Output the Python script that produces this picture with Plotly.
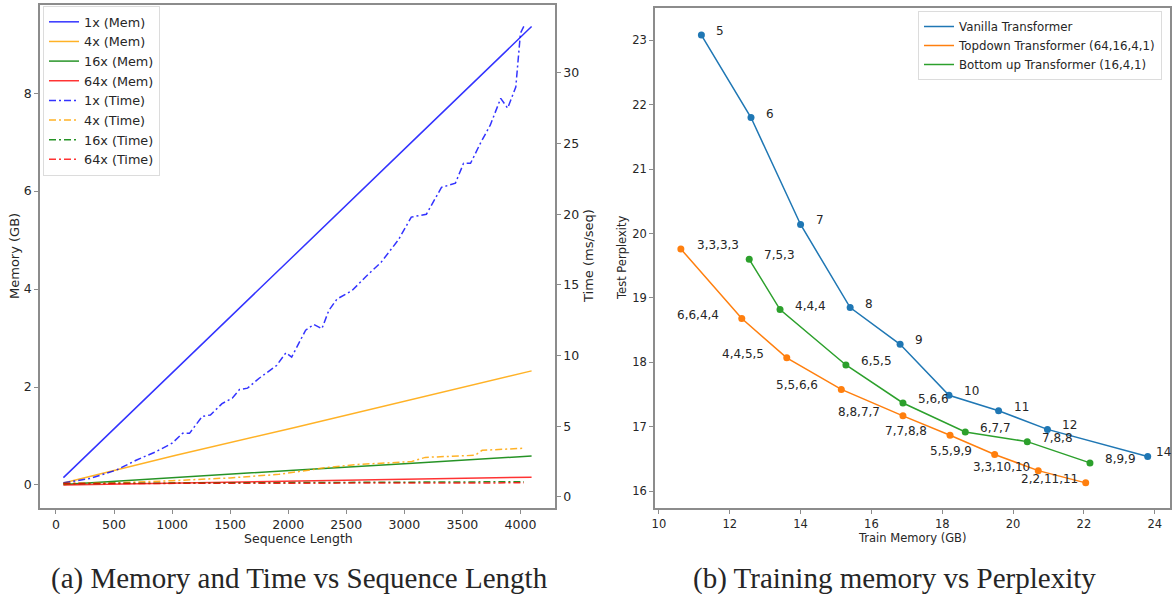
import plotly.graph_objects as go

W, H = 1173, 594

# ---------------- Left chart data ----------------
mem_seq = [64, 1024, 2048, 3072, 4096]
mem_1x = [0.15, 2.35, 4.68, 7.02, 9.36]
mem_4x = [0.04, 0.60, 1.17, 1.75, 2.33]
mem_16x = [0.01, 0.155, 0.30, 0.445, 0.59]
mem_64x = [0.0, 0.04, 0.08, 0.12, 0.16]

time1_seq = [64, 290, 520, 690, 860, 1000, 1090, 1150, 1260, 1330, 1430, 1520, 1580, 1650,
             1750, 1900, 1980, 2030, 2150, 2220, 2290, 2350, 2420, 2550, 2670, 2800, 2950,
             3060, 3190, 3320, 3440, 3510, 3570, 3660, 3740, 3830, 3890, 3960, 4000, 4030]
time_1x = [1.0, 1.3, 1.9, 2.6, 3.2, 3.8, 4.5, 4.5, 5.7, 5.8, 6.6, 7.0, 7.6, 7.7,
           8.4, 9.3, 10.2, 9.9, 11.8, 12.2, 11.9, 13.2, 14.0, 14.6, 15.6, 16.6, 18.2,
           19.8, 20.0, 21.9, 22.2, 23.6, 23.6, 25.1, 26.3, 28.2, 27.5, 29.0, 32.8, 33.3]

time4_seq = [64, 500, 1000, 1500, 1920, 2080, 2350, 2600, 3060, 3180, 3610, 3670, 4030]
time_4x = [0.95, 1.0, 1.15, 1.35, 1.6, 1.8, 2.1, 2.3, 2.5, 2.8, 2.95, 3.3, 3.45]

time_seq = [64, 1000, 2000, 3000, 4030]
time_16x = [0.95, 0.97, 1.0, 1.03, 1.08]
time_64x = [0.95, 0.96, 0.97, 0.98, 1.0]

# ---------------- Right chart data ----------------
van_mem = [11.2, 12.6, 14.0, 15.4, 16.81, 18.19, 19.59, 20.97, 23.8]
van_ppl = [23.08, 21.8, 20.14, 18.85, 18.28, 17.49, 17.25, 16.96, 16.54]
van_lbl = ["5", "6", "7", "8", "9", "10", "11", "12", "14"]

td_mem = [10.62, 12.34, 13.61, 15.15, 16.89, 18.22, 19.48, 20.71, 22.05]
td_ppl = [19.76, 18.68, 18.07, 17.58, 17.17, 16.87, 16.57, 16.32, 16.13]
td_lbl = ["3,3,3,3", "6,6,4,4", "4,4,5,5", "5,5,6,6", "8,8,7,7", "7,7,8,8",
          "5,5,9,9", "3,3,10,10", "2,2,11,11"]

bu_mem = [12.55, 13.42, 15.28, 16.89, 18.65, 20.4, 22.17]
bu_ppl = [19.6, 18.82, 17.96, 17.37, 16.92, 16.77, 16.44]
bu_lbl = ["7,5,3", "4,4,4", "6,5,5", "5,6,6", "6,7,7", "7,8,8", "8,9,9"]

# ---------------- Styling ----------------
FONT = "DejaVu Sans"
TXT = "#262626"
SPINE = "#8c8c8c"
C_BLUE = "rgba(0,0,255,0.8)"
C_ORANGE = "rgba(255,165,0,0.85)"
C_GREEN = "rgba(0,128,0,0.85)"
C_RED = "rgba(255,0,0,0.8)"
DD = "7px,3px,2px,3px"

fig = go.Figure()

def mem_trace(x, y, name, color):
    fig.add_trace(go.Scatter(x=x, y=y, name=name, mode="lines",
                             line=dict(color=color, width=1.5),
                             xaxis="x", yaxis="y", legend="legend"))

def time_trace(x, y, name, color):
    fig.add_trace(go.Scatter(x=x, y=y, name=name, mode="lines",
                             line=dict(color=color, width=1.5, dash=DD),
                             xaxis="x", yaxis="y2", legend="legend"))

mem_trace(mem_seq, mem_1x, "1x (Mem)", C_BLUE)
mem_trace(mem_seq, mem_4x, "4x (Mem)", C_ORANGE)
mem_trace(mem_seq, mem_16x, "16x (Mem)", C_GREEN)
mem_trace(mem_seq, mem_64x, "64x (Mem)", C_RED)
time_trace(time1_seq, time_1x, "1x (Time)", C_BLUE)
time_trace(time4_seq, time_4x, "4x (Time)", C_ORANGE)
time_trace(time_seq, time_16x, "16x (Time)", C_GREEN)
time_trace(time_seq, time_64x, "64x (Time)", C_RED)

for xs, ys, name, color in [(van_mem, van_ppl, "Vanilla Transformer", "#1f77b4"),
                            (td_mem, td_ppl, "Topdown Transformer (64,16,4,1)", "#ff7f0e"),
                            (bu_mem, bu_ppl, "Bottom up Transformer (16,4,1)", "#2ca02c")]:
    fig.add_trace(go.Scatter(x=xs, y=ys, name=name, mode="lines",
                             line=dict(color=color, width=1.5),
                             xaxis="x2", yaxis="y3", legend="legend2"))
    fig.add_trace(go.Scatter(x=xs, y=ys, name=name, mode="markers",
                             marker=dict(color=color, size=7), showlegend=False,
                             xaxis="x2", yaxis="y3", legend="legend2"))

annotations = []
def point_label(xs, ys, labels, shifts):
    for xv, yv, t, sx in zip(xs, ys, labels, shifts):
        annotations.append(dict(x=xv, y=yv, xref="x2", yref="y3", text=t,
                                showarrow=False, xanchor="left", yanchor="middle",
                                xshift=sx, yshift=4,
                                font=dict(family=FONT, size=12, color=TXT)))

point_label(van_mem, van_ppl, van_lbl, [13] * (len(van_lbl) - 1) + [6])
point_label(td_mem, td_ppl, td_lbl, [14] + [-67] * (len(td_lbl) - 1))
point_label(bu_mem, bu_ppl, bu_lbl, [13] * len(bu_lbl))

def paper_text(x, y, text, size, angle=0, family=FONT):
    annotations.append(dict(x=x / W, y=1 - y / H, xref="paper", yref="paper",
                            text=text, showarrow=False, textangle=angle,
                            xanchor="center", yanchor="middle",
                            font=dict(family=family, size=size, color=TXT)))

paper_text(298, 538, "Sequence Length", 12.5)
paper_text(14, 256, "Memory (GB)", 13, -90)
paper_text(588, 256, "Time (ms/seq)", 13, -90)
paper_text(912, 538, "Train Memory (GB)", 11.5)
paper_text(622, 258, "Test Perplexity", 11.5, -90)
paper_text(299, 578, "(a) Memory and Time vs Sequence Length", 29,
           family="Liberation Serif")
paper_text(894, 578, "(b) Training memory vs Perplexity", 29,
           family="Liberation Serif")

ax_common = dict(showline=True, linecolor=SPINE, linewidth=1.5, ticks="outside",
                 ticklen=4, tickcolor=SPINE, showgrid=False, zeroline=False,
                 automargin=False)

ybot, ytop = 1 - 508 / H, 1 - 5 / H

fig.update_layout(
    width=W, height=H, margin=dict(l=0, r=0, t=0, b=0),
    paper_bgcolor="white", plot_bgcolor="white",
    font=dict(family=FONT, color=TXT),
    xaxis=dict(domain=[40 / W, 555 / W], range=[-137.6, 4297.6], dtick=500,
               tick0=0, mirror=True, anchor="y",
               tickfont=dict(size=12.5), **ax_common),
    yaxis=dict(domain=[ybot, ytop], range=[-0.47, 9.8], dtick=2, tick0=0,
               anchor="x", tickfont=dict(size=12.5), **ax_common),
    yaxis2=dict(overlaying="y", side="right", anchor="x", range=[-0.78, 34.8],
                dtick=5, tick0=0, tickfont=dict(size=12.5), **ax_common),
    xaxis2=dict(domain=[655 / W, 1170 / W], range=[9.89, 24.43], dtick=2, tick0=10,
                mirror=True, anchor="y3", tickfont=dict(size=11.5), **ax_common),
    yaxis3=dict(domain=[ybot, 1 - 8 / H], range=[15.74, 23.5], dtick=1, tick0=16,
                mirror=True, anchor="x2", tickfont=dict(size=11.5), **ax_common),
    legend=dict(x=43 / W, y=1 - 6 / H, xanchor="left", yanchor="top",
                bgcolor="rgba(255,255,255,0.8)", bordercolor="#dcdcdc",
                borderwidth=1, font=dict(size=12.8, family=FONT, color=TXT),
                tracegroupgap=0, itemwidth=30),
    legend2=dict(x=918 / W, y=1 - 11 / H, xanchor="left", yanchor="top",
                 bgcolor="rgba(255,255,255,0.8)", bordercolor="#dcdcdc",
                 borderwidth=1, font=dict(size=11.8, family=FONT, color=TXT),
                 itemwidth=30),
    annotations=annotations,
    showlegend=True,
)

fig.write_html("out.html")
